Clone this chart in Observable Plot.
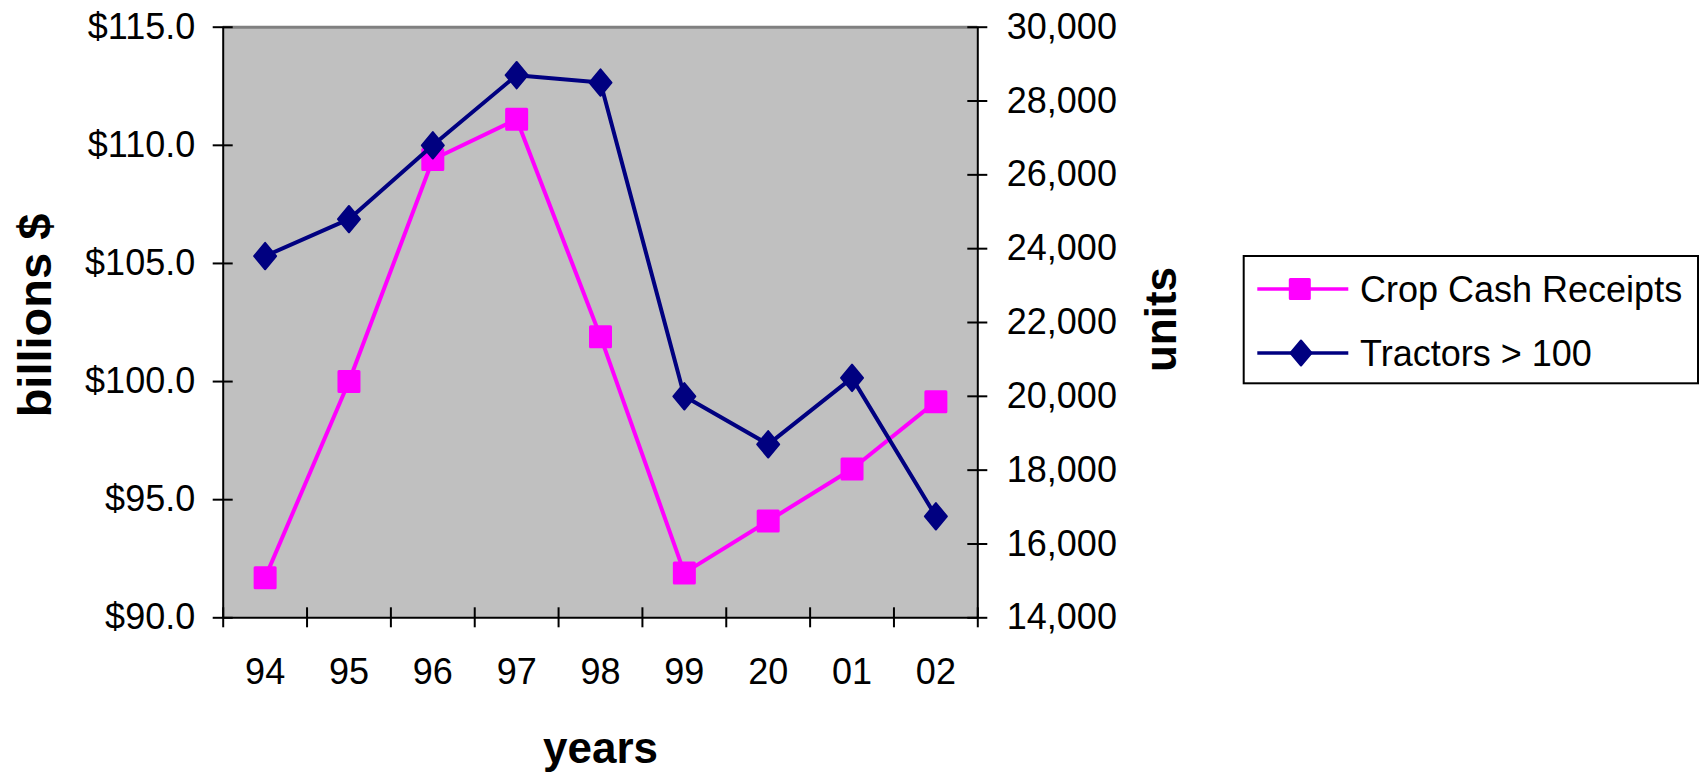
<!DOCTYPE html>
<html>
<head>
<meta charset="utf-8">
<script src="https://cdn.jsdelivr.net/npm/d3@7"></script>
<script src="https://cdn.jsdelivr.net/npm/@observablehq/plot@0.6"></script>
<style>
  html, body { margin: 0; padding: 0; background: #fff; }
  #wrap { position: relative; width: 1702px; height: 772px; font-family: "Liberation Sans", Arial, sans-serif; }
  #legend { position: absolute; left: 0; top: 0; }
</style>
</head>
<body>
<div id="wrap"></div>
<script>
// ---- data ----
const years = ["94", "95", "96", "97", "98", "99", "20", "01", "02"];
const cropReceipts = [91.7, 100.0, 109.4, 111.1, 101.9, 91.9, 94.1, 96.3, 99.15];
const tractors = [23800, 24800, 26800, 28700, 28500, 20000, 18700, 20500, 16750];
const leftTicks = [90, 95, 100, 105, 110, 115];
const rightTicks = [14000, 16000, 18000, 20000, 22000, 24000, 26000, 28000, 30000];
const seriesNames = ["Crop Cash Receipts", "Tractors > 100"];
const xLabel = "years", yLabelLeft = "billions $", yLabelRight = "units";

// map right-axis values onto left scale
const L0 = 90, L1 = 115, R0 = 14000, R1 = 30000;
const toLeft = v => L0 + (v - R0) / (R1 - R0) * (L1 - L0);
const toRight = v => R0 + (v - L0) / (L1 - L0) * (R1 - R0);

const rows = years.map((y, i) => ({pos: i + 0.5, year: y, crop: cropReceipts[i], tr: toLeft(tractors[i])}));
const bounds = d3.range(years.length + 1);

const squareSym = {draw(ctx, size) { const r = Math.sqrt(size / Math.PI); ctx.rect(-r, -r, 2 * r, 2 * r); }};
const diamondSym = {draw(ctx, size) { const r = Math.sqrt(size / Math.PI); const h = r * 1.2;
  ctx.moveTo(0, -h); ctx.lineTo(r, 0); ctx.lineTo(0, h); ctx.lineTo(-r, 0); ctx.closePath(); }};

const PINK = "#ff00ff", NAVY = "#000080";
const FONT = "Liberation Sans, Arial, sans-serif";

const chart = Plot.plot({
  width: 1702,
  height: 772,
  marginLeft: 222.7,
  marginRight: 724.7,
  marginTop: 26.7,
  marginBottom: 154.7,
  style: {fontFamily: FONT, background: "transparent", overflow: "visible"},
  x: {domain: [0, years.length], axis: null},
  y: {domain: [L0, L1], axis: null},
  marks: [
    Plot.frame({fill: "#c0c0c0", stroke: null}),
    Plot.ruleY([L1], {stroke: "#808080", strokeWidth: 3}),
    Plot.ruleY([L0], {stroke: "#000", strokeWidth: 2}),
    Plot.ruleX([0], {stroke: "#000", strokeWidth: 2}),
    Plot.ruleX([years.length], {stroke: "#000", strokeWidth: 2}),
    // crossing ticks
    Plot.ruleY(leftTicks, {x1: 0, x2: 0, insetLeft: -10, insetRight: -10, stroke: "#000", strokeWidth: 2}),
    Plot.ruleY(rightTicks.map(toLeft), {x1: years.length, x2: years.length, insetLeft: -10, insetRight: -10, stroke: "#000", strokeWidth: 2}),
    Plot.ruleX(bounds, {y1: L0, y2: L0, insetTop: -10, insetBottom: -10, stroke: "#000", strokeWidth: 2}),
    // tick labels
    Plot.axisY(leftTicks, {anchor: "left", tickSize: 0, tickPadding: 28, fontSize: 36, tickFormat: d => "$" + d.toFixed(1), label: null, fill: "#000"}),
    Plot.axisY(rightTicks.map(toLeft), {anchor: "right", tickSize: 0, tickPadding: 29, fontSize: 36, tickFormat: d => d3.format(",")(Math.round(toRight(d))), label: null, fill: "#000"}),
    Plot.axisX(rows.map(d => d.pos), {anchor: "bottom", tickSize: 0, tickPadding: 41, fontSize: 36, tickFormat: (d, i) => years[i], label: null, fill: "#000"}),
    // axis titles
    Plot.text([xLabel], {frameAnchor: "bottom", lineAnchor: "middle", textAnchor: "middle", dy: 130.7, fontSize: 44, fontWeight: "bold", fill: "#000"}),
    Plot.text([yLabelLeft], {frameAnchor: "left", lineAnchor: "middle", textAnchor: "middle", dx: -187.4, dy: -7, rotate: -90, fontSize: 47, fontWeight: "bold", fill: "#000"}),
    Plot.text([yLabelRight], {frameAnchor: "right", lineAnchor: "middle", textAnchor: "middle", dx: 184.5, dy: -3, rotate: -90, fontSize: 44, fontWeight: "bold", fill: "#000"}),
    // series
    Plot.line(rows, {x: "pos", y: "crop", stroke: PINK, strokeWidth: 4}),
    Plot.dot(rows, {x: "pos", y: "crop", symbol: squareSym, r: 10, fill: PINK, stroke: PINK, strokeWidth: 3, strokeLinejoin: "round"}),
    Plot.line(rows, {x: "pos", y: "tr", stroke: NAVY, strokeWidth: 4}),
    Plot.dot(rows, {x: "pos", y: "tr", symbol: diamondSym, r: 11, fill: NAVY, stroke: NAVY, strokeWidth: 2, strokeLinejoin: "round"})
  ]
});
document.getElementById("wrap").appendChild(chart);

// ---- legend ----
const leg = d3.select("#wrap").append("svg").attr("id", "legend").attr("width", 1702).attr("height", 772);
leg.append("rect").attr("x", 1243.7).attr("y", 256).attr("width", 454.3).attr("height", 127.3)
  .attr("fill", "#fff").attr("stroke", "#000").attr("stroke-width", 2);
const rowsY = [289, 353];
const cols = [PINK, NAVY];
seriesNames.forEach((name, i) => {
  const g = leg.append("g");
  g.append("line").attr("x1", 1257.3).attr("x2", 1348.3).attr("y1", rowsY[i]).attr("y2", rowsY[i])
    .attr("stroke", cols[i]).attr("stroke-width", 3.5);
  if (i === 0) {
    g.append("rect").attr("x", 1290.3).attr("y", rowsY[i] - 9.5).attr("width", 19).attr("height", 19)
      .attr("fill", PINK).attr("stroke", PINK).attr("stroke-width", 3).attr("stroke-linejoin", "round");
  } else {
    const cx = 1301, cy = rowsY[i];
    g.append("path").attr("d", `M${cx},${cy - 12.5}L${cx + 10.5},${cy}L${cx},${cy + 12.5}L${cx - 10.5},${cy}Z`)
      .attr("fill", NAVY).attr("stroke", NAVY).attr("stroke-width", 2).attr("stroke-linejoin", "round");
  }
  g.append("text").attr("x", 1360).attr("y", rowsY[i]).attr("dy", "0.35em")
    .attr("font-family", FONT).attr("font-size", 36).attr("fill", "#000").text(name);
});
</script>
</body>
</html>
